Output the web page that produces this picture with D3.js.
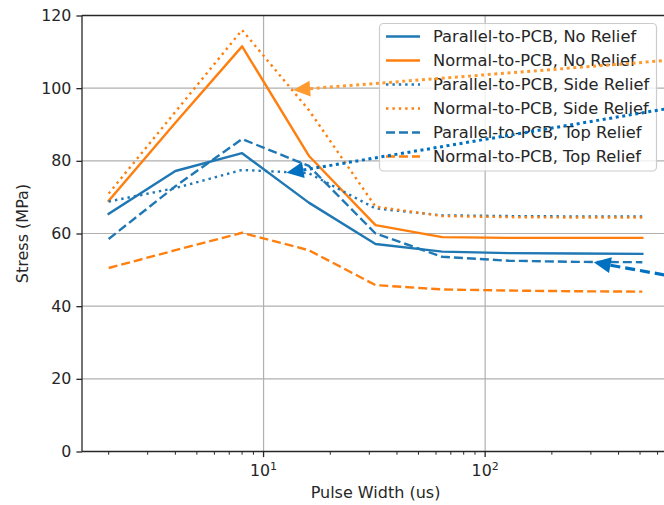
<!DOCTYPE html>
<html>
<head>
<meta charset="utf-8">
<script src="https://cdn.jsdelivr.net/npm/d3@7"></script>
<style>
  html, body { margin: 0; padding: 0; background: #fff; }
  svg { display: block; }
  text { font-family: "DejaVu Sans", sans-serif; fill: #262626; }
</style>
</head>
<body>
<svg id="chart" width="664" height="505"></svg>
<script>
// ---- data ----
const pulseWidths = [2, 4, 8, 16, 32, 64, 128, 256, 512];
const parallelNoRelief   = [65.4, 77.2, 82.1, 68.5, 57.1, 55.0, 54.6, 54.5, 54.4];
const normalNoRelief     = [69.0, 90.5, 111.5, 81.4, 62.3, 59.0, 58.8, 58.8, 58.8];
const parallelSideRelief = [68.8, 72.5, 77.5, 76.6, 66.9, 65.0, 64.8, 64.7, 64.7];
const normalSideRelief   = [71.0, 93.5, 116.0, 94.0, 67.4, 64.8, 64.5, 64.4, 64.4];
const parallelTopRelief  = [58.5, 73.0, 86.0, 78.6, 60.0, 53.6, 52.5, 52.2, 52.1];
const normalTopRelief    = [50.5, 55.4, 60.2, 55.4, 45.8, 44.6, 44.3, 44.1, 44.0];
const seriesNames = [
  "Parallel-to-PCB, No Relief",
  "Normal-to-PCB, No Relief",
  "Parallel-to-PCB, Side Relief",
  "Normal-to-PCB, Side Relief",
  "Parallel-to-PCB, Top Relief",
  "Normal-to-PCB, Top Relief"
];
const yTicks = [0, 20, 40, 60, 80, 100, 120];
const xMajorTicks = [10, 100];
const xLabel = "Pulse Width (us)";
const yLabel = "Stress (MPa)";
// annotation arrows: [tipX, tipY, tailX, tailY] in data units
const arrowOrange    = [13.6, 99.5, 1000, 108.5];
const arrowBlueDot   = [12.7, 76.7, 1000, 96.2];
const arrowBlueDash  = [309, 52.1, 1000, 46.5];

(function () {
// ---- styles ----
const C0 = "#1f77b4", C1 = "#ff7f0e";
const styles = [
  {color: C0, dash: null},
  {color: C1, dash: null},
  {color: C0, dash: "2.4,4"},
  {color: C1, dash: "2.4,4"},
  {color: C0, dash: "9,4"},
  {color: C1, dash: "9,4"}
];
const seriesValues = [parallelNoRelief, normalNoRelief, parallelSideRelief,
                      normalSideRelief, parallelTopRelief, normalTopRelief];

const svg = d3.select("#chart");
const pLeft = 82, pRight = 669, pTop = 15.5, pBottom = 451.5;

const lmin = Math.log10(d3.min(pulseWidths)), lmax = Math.log10(d3.max(pulseWidths));
const m = 0.05 * (lmax - lmin);
const x = d3.scaleLog().domain([Math.pow(10, lmin - m), Math.pow(10, lmax + m)]).range([pLeft, pRight]);
const y = d3.scaleLinear().domain([0, 120]).range([pBottom, pTop]);

// grid
const grid = svg.append("g");
yTicks.forEach(t => grid.append("line")
  .attr("x1", pLeft).attr("x2", pRight).attr("y1", y(t)).attr("y2", y(t))
  .attr("stroke", "#b0b0b0").attr("stroke-width", 1.2));
xMajorTicks.forEach(t => grid.append("line")
  .attr("x1", x(t)).attr("x2", x(t)).attr("y1", pTop).attr("y2", pBottom)
  .attr("stroke", "#b0b0b0").attr("stroke-width", 1.2));

// lines
const line = d3.line().x((d, i) => x(pulseWidths[i])).y(d => y(d));
seriesValues.forEach((vals, k) => {
  svg.append("path").datum(vals)
    .attr("d", line)
    .attr("fill", "none")
    .attr("stroke", styles[k].color)
    .attr("stroke-width", 2.4)
    .attr("stroke-linejoin", "round")
    .attr("stroke-linecap", styles[k].dash ? "butt" : "square")
    .attr("stroke-dasharray", styles[k].dash);
});

// axes
const yAxis = d3.axisLeft(y).tickValues(yTicks).tickSize(5.6).tickPadding(5);
const gy = svg.append("g").attr("transform", `translate(${pLeft},0)`).call(yAxis);
gy.select(".domain").remove();
gy.selectAll(".tick line").attr("stroke", "#262626").attr("stroke-width", 1.3);
gy.selectAll(".tick text").attr("font-size", "15.8px").attr("font-family", "DejaVu Sans").attr("fill", "#262626");

const minorTicks = [];
[1, 10, 100].forEach(dec => { for (let k = 2; k <= 9; k++) { const v = dec * k; if (v > x.domain()[0] && v < x.domain()[1]) minorTicks.push(v); } });
const gx = svg.append("g");
minorTicks.forEach(t => gx.append("line")
  .attr("x1", x(t)).attr("x2", x(t)).attr("y1", pBottom).attr("y2", pBottom + 3.2)
  .attr("stroke", "#262626").attr("stroke-width", 1));
xMajorTicks.forEach(t => {
  gx.append("line").attr("x1", x(t)).attr("x2", x(t)).attr("y1", pBottom).attr("y2", pBottom + 5.6)
    .attr("stroke", "#262626").attr("stroke-width", 1.3);
  const tx = gx.append("text").attr("x", x(t)).attr("y", 476).attr("text-anchor", "middle")
    .attr("font-size", "15.8px");
  tx.append("tspan").text("10");
  tx.append("tspan").attr("font-size", "11px").attr("dy", "-6").text(String(Math.round(Math.log10(t))));
});

// spines
[[pLeft, pTop, pLeft, pBottom], [pLeft, pBottom, pRight, pBottom], [pLeft, pTop, pRight, pTop], [pRight, pTop, pRight, pBottom]]
  .forEach(s => svg.append("line").attr("x1", s[0]).attr("y1", s[1]).attr("x2", s[2]).attr("y2", s[3])
    .attr("stroke", "#262626").attr("stroke-width", 1.3));

// labels
svg.append("text").attr("x", (pLeft + pRight) / 2).attr("y", 498).attr("text-anchor", "middle")
  .attr("font-size", "16px").text(xLabel);
svg.append("text").attr("transform", `translate(28,${(pTop + pBottom) / 2}) rotate(-90)`)
  .attr("text-anchor", "middle").attr("font-size", "16px").text(yLabel);

// legend
const lg = svg.append("g");
lg.append("rect").attr("x", 379.5).attr("y", 23.5).attr("width", 277).attr("height", 147.5)
  .attr("rx", 4).attr("fill", "#fff").attr("fill-opacity", 0.8).attr("stroke", "#cccccc").attr("stroke-width", 1.2);
seriesNames.forEach((name, i) => {
  const cy = 36.5 + i * 24;
  lg.append("line").attr("x1", 386).attr("x2", 420).attr("y1", cy).attr("y2", cy)
    .attr("stroke", styles[i].color).attr("stroke-width", 2.4)
    .attr("stroke-dasharray", styles[i].dash);
  lg.append("text").attr("x", 433).attr("y", cy).attr("dy", "0.36em")
    .attr("font-size", "16.3px").text(name);
});

// annotation arrows
function arrow(a, color, dash, width) {
  const tx = x(a[0]), ty = y(a[1]), sx = x(a[2]), sy = y(a[3]);
  const dx = sx - tx, dy = sy - ty, len = Math.hypot(dx, dy);
  const ux = dx / len, uy = dy / len;
  const hl = 17, hw = 8;
  const bx = tx + ux * hl, by = ty + uy * hl;
  svg.append("line").attr("x1", bx).attr("y1", by).attr("x2", sx).attr("y2", sy)
    .attr("stroke", color).attr("stroke-width", width).attr("stroke-dasharray", dash);
  svg.append("path")
    .attr("d", `M${tx},${ty} L${bx - uy * hw},${by + ux * hw} L${bx + uy * hw},${by - ux * hw} Z`)
    .attr("fill", color);
}
arrow(arrowOrange, "#ff9a2e", "3,3.6", 3);
arrow(arrowBlueDot, "#0070c0", "3,3.6", 3);
arrow(arrowBlueDash, "#0070c0", "10,5", 3.2);
})();
</script>
</body>
</html>
